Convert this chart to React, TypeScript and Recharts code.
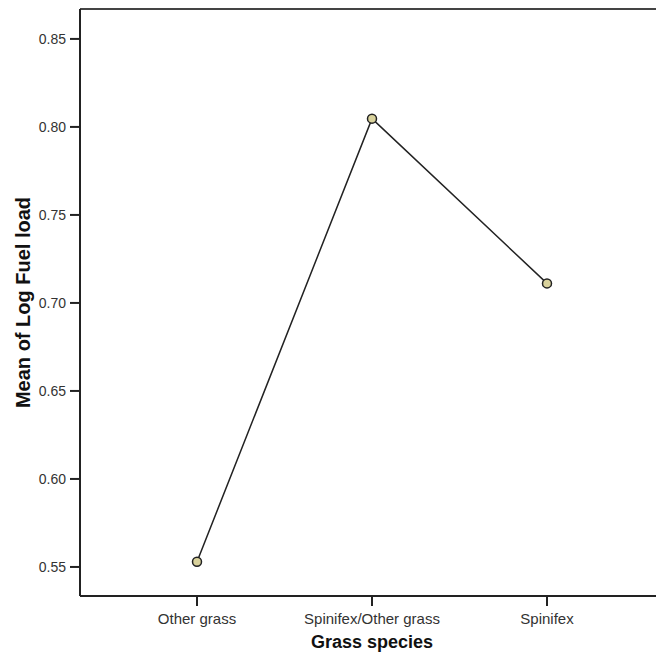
import { Label, Line, LineChart, ReferenceLine, XAxis, YAxis } from "recharts";

const species = ["Other grass", "Spinifex/Other grass", "Spinifex"];
const meanLogFuel = [0.553, 0.8047, 0.7111];
const yTicks = [0.55, 0.6, 0.65, 0.7, 0.75, 0.8, 0.85];
const yDomain = [0.5335, 0.867];

const data = species.map((name, i) => ({ name, value: meanLogFuel[i] }));

const FONT = "'Liberation Sans', Arial, sans-serif";

export default function App() {
  return (
    <div
      style={{
        position: "absolute",
        left: 0,
        top: 0,
        width: 656,
        height: 656,
        overflow: "hidden",
        background: "#fff",
      }}
    >
      <LineChart
        width={680}
        height={656}
        data={data}
        margin={{ top: 9, right: 16, left: 0, bottom: 0 }}
      >
        <XAxis
          dataKey="name"
          interval={0}
          padding={{ left: 117, right: 117 }}
          height={60}
          stroke="#222"
          strokeWidth={2}
          tickSize={10}
          tickMargin={7}
          tick={{ fontSize: 15, fill: "#333", fontFamily: FONT }}
        >
          <Label
            value="Grass species"
            position="insideBottom"
            offset={8}
            fontSize={18}
            fontWeight="bold"
            fill="#111"
            fontFamily={FONT}
          />
        </XAxis>
        <YAxis
          domain={yDomain}
          ticks={yTicks}
          width={80}
          stroke="#222"
          strokeWidth={2}
          tickSize={10}
          tickMargin={4}
          tickFormatter={(v: number) => v.toFixed(2)}
          tick={{ fontSize: 14, fill: "#333", fontFamily: FONT }}
        >
          <Label
            value="Mean of Log Fuel load"
            angle={-90}
            position="insideLeft"
            offset={23}
            textAnchor="middle"
            fontSize={20}
            fontWeight="bold"
            fill="#111"
            fontFamily={FONT}
          />
        </YAxis>
        {/* frame line along the top of the plot */}
        <ReferenceLine y={yDomain[1]} stroke="#444" strokeWidth={2} />
        <Line
          type="linear"
          dataKey="value"
          stroke="#222"
          strokeWidth={1.5}
          dot={{ r: 4.5, fill: "#d9d29c", stroke: "#222", strokeWidth: 1.5 }}
          isAnimationActive={false}
        />
      </LineChart>
    </div>
  );
}
